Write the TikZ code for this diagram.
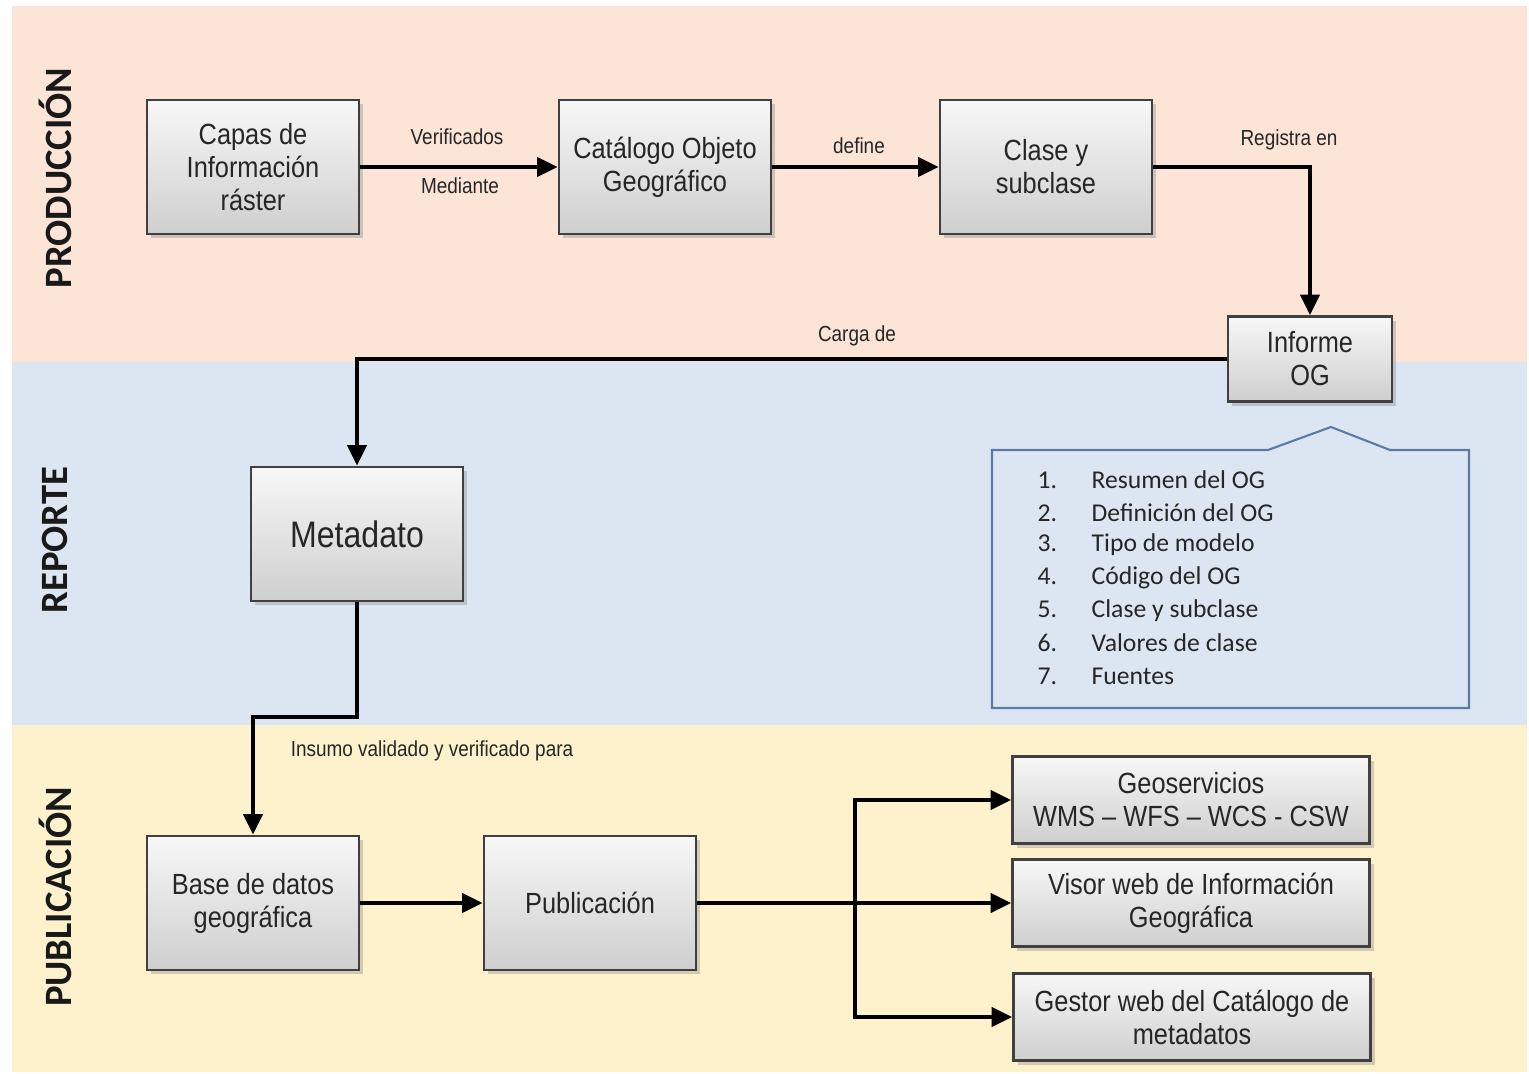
\documentclass[tikz,border=0pt]{standalone}
\usepackage{fontspec}
\setmainfont{Liberation Sans}
\newfontfamily\boxfont{Liberation Sans}[FakeStretch=0.87]
\newfontfamily\calibri{Carlito}
\usepackage{tikz}
\usetikzlibrary{arrows.meta,shadows}

\definecolor{bandprod}{HTML}{FCE4D7}
\definecolor{bandrep}{HTML}{DCE6F2}
\definecolor{bandpub}{HTML}{FEF2CD}
\definecolor{calloutline}{HTML}{5B7BA6}
\definecolor{boxtext}{HTML}{262626}

\tikzset{
  proceso/.style={draw=black!75, line width=0.8pt, top color=gray!6, bottom color=gray!38,
    drop shadow={shadow xshift=1.2pt, shadow yshift=-1.2pt, opacity=0.35},
    minimum width=2.12cm, minimum height=1.34cm, align=center, inner sep=2pt,
    text=boxtext, font=\boxfont\fontsize{8.3}{9.4}\selectfont},
  ancho/.style={proceso, minimum width=3.57cm, minimum height=0.87cm},
  flecha/.style={line width=1.1pt, -{Triangle[length=5.8pt,width=5.4pt]}},
  etiqueta/.style={font=\boxfont\fontsize{6.2}{7.5}\selectfont, text=boxtext, inner sep=1pt},
  carril/.style={rotate=90, font=\calibri\bfseries\fontsize{11}{13}\selectfont, text=black!90},
  punto/.style={anchor=west, inner sep=0pt, text=boxtext, font=\calibri\fontsize{7.3}{9}\selectfont}
}

\begin{document}
\begin{tikzpicture}
      \useasboundingbox (0,0) rectangle (15.29,-10.74);
      \fill[white] (0,0) rectangle (15.29,-10.74);
      % Franjas
      \fill[bandprod] (0.12,-0.06) rectangle (15.27,-3.62);
      \fill[bandrep] (0.12,-3.62) rectangle (15.27,-7.25);
      \fill[bandpub] (0.12,-7.25) rectangle (15.27,-10.72);
      \node[carril] (lprod) at (0.55,-1.78) {PRODUCCIÓN};
      \node[carril] (lrep) at (0.55,-5.40) {REPORTE};
      \node[carril] (lpub) at (0.55,-8.97) {PUBLICACIÓN};

      % Produccion
      \node[proceso] (capas) at (2.53,-1.67) {Capas de\\Información\\ráster};
      \node[proceso] (catalogo) at (6.65,-1.67) {Catálogo Objeto\\Geográfico};
      \node[proceso] (clase) at (10.46,-1.67) {Clase y\\subclase};
      \node[proceso, minimum width=1.64cm, minimum height=0.85cm] (informe) at (13.10,-3.59) {Informe\\OG};

      \draw[flecha] (capas) -- (catalogo);
        \node[etiqueta] (verif) at (4.57,-1.37) {Verificados};
        \node[etiqueta] (median) at (4.60,-1.86) {Mediante};
      \draw[flecha] (catalogo) -- (clase);
        \node[etiqueta] (def) at (8.59,-1.46) {define};
      \draw[flecha] (clase.east) -| (informe.north);
        \node[etiqueta] (reg) at (12.89,-1.40) {Registra en};

      % Reporte
      \node[proceso, font=\boxfont\fontsize{10.5}{12}\selectfont] (meta) at (3.57,-5.34) {Metadato};
      \draw[flecha] (informe.west) -| (meta.north);
        \node[etiqueta] (carga) at (8.57,-3.36) {Carga de};

      % Contenido del informe
      \draw[calloutline, line width=0.6pt] (9.92,-4.50) -- (12.68,-4.50) -- (13.31,-4.27) -- (13.90,-4.50)
        -- (14.69,-4.50) -- (14.69,-7.08) -- (9.92,-7.08) -- cycle;
      \node[punto] (i1) at (10.37,-4.80) {\makebox[0.54cm][l]{1.}Resumen del OG};
      \node[punto] (i2) at (10.37,-5.13) {\makebox[0.54cm][l]{2.}Definición del OG};
      \node[punto] (i3) at (10.37,-5.45) {\makebox[0.54cm][l]{3.}Tipo de modelo};
      \node[punto] (i4) at (10.37,-5.78) {\makebox[0.54cm][l]{4.}Código del OG};
      \node[punto] (i5) at (10.37,-6.11) {\makebox[0.54cm][l]{5.}Clase y subclase};
      \node[punto] (i6) at (10.37,-6.43) {\makebox[0.54cm][l]{6.}Valores de clase};
      \node[punto] (i7) at (10.37,-6.76) {\makebox[0.54cm][l]{7.}Fuentes};

      % Publicacion
      \node[proceso] (base) at (2.53,-9.03) {Base de datos\\geográfica};
      \node[proceso] (pub) at (5.90,-9.03) {Publicación};
      \node[ancho] (geo) at (11.91,-8.00) {Geoservicios\\WMS – WFS – WCS - CSW};
      \node[ancho] (visor) at (11.91,-9.03) {Visor web de Información\\Geográfica};
      \node[ancho] (gestor) at (11.92,-10.17) {Gestor web del Catálogo de\\metadatos};

      \coordinate (giro) at (3.57,-7.17);
      \draw[flecha] (meta.south) -- (giro) -| (base.north);
        \node[etiqueta] (insumo) at (4.32,-7.51) {Insumo validado y verificado para};
      \draw[flecha] (base) -- (pub);

      \coordinate (rama) at (8.55,-9.03);
      \draw[line width=1.1pt] (pub.east) -- (rama);
      \draw[flecha] (rama) -- (visor.west);
      \draw[flecha] (rama) |- (geo.west);
      \draw[flecha] (rama) |- (gestor.west);
    \end{tikzpicture}
\end{document}
